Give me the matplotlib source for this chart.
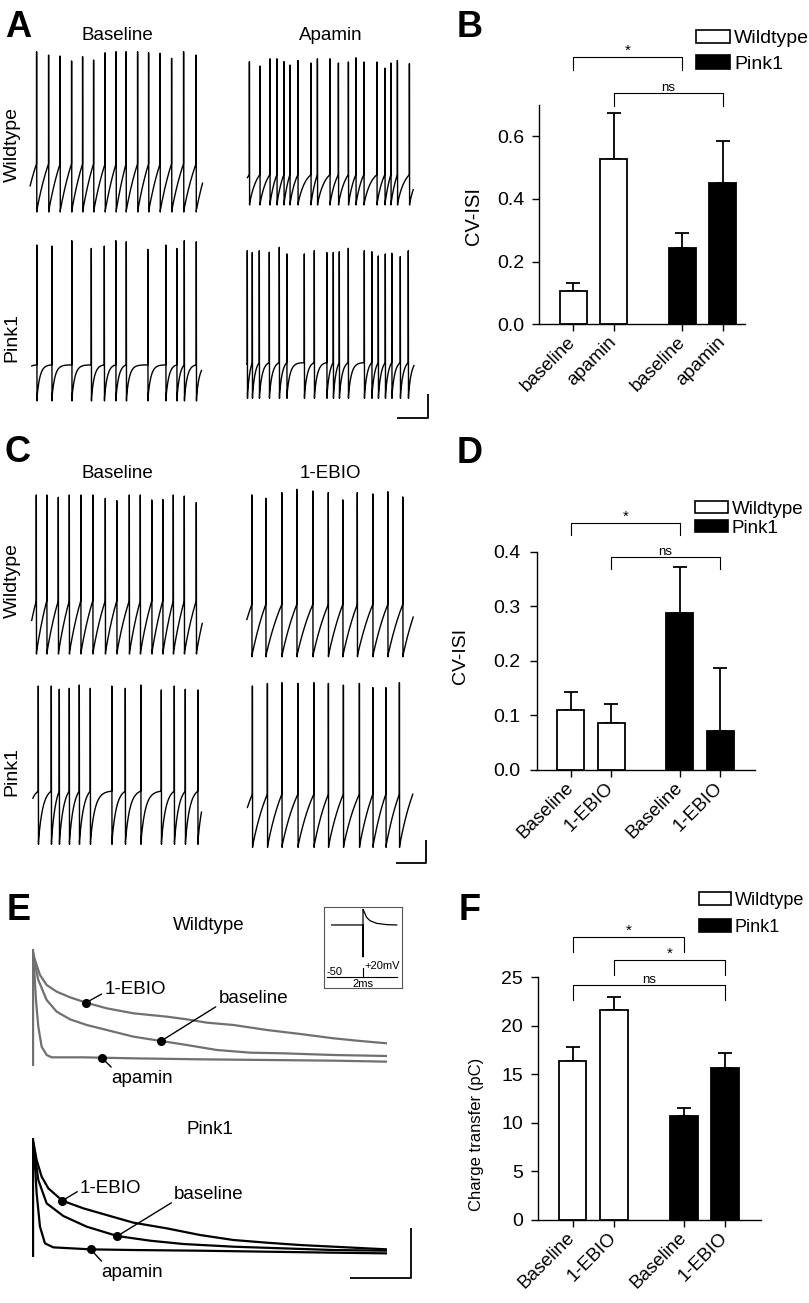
"""Pacemaker firing, CV-ISI and SK charge-transfer figure (panels A-F)."""

import numpy as np
import matplotlib

matplotlib.use("Agg")
import matplotlib.pyplot as plt
from matplotlib.patches import Patch
from matplotlib.lines import Line2D

plt.rcParams["font.family"] = ["Liberation Sans", "DejaVu Sans"]

W, H = 809, 1303

# ----------------------------------------------------------------
# Spike trains read off panels A and C: spike times (s), peaks (mV)
# ----------------------------------------------------------------
a_wt_base_spikes = [0.13, 0.37, 0.60, 0.83, 1.05, 1.27, 1.50, 1.72, 1.92,
                    2.15, 2.37, 2.60, 2.83, 3.07, 3.32]
a_wt_base_peaks = [20.0, 18.1, 17.6, 14.8, 17.2, 15.3, 19.4, 20.0, 20.0,
                   20.0, 19.4, 19.1, 16.3, 20.0, 18.1]
a_wt_apa_spikes = [0.04, 0.25, 0.45, 0.59, 0.73, 0.85, 1.01, 1.27, 1.40,
                   1.65, 1.82, 2.02, 2.17, 2.33, 2.59, 2.75, 2.87, 3.00, 3.24]
a_wt_apa_peaks = [17.4, 14.8, 19.1, 19.1, 17.4, 15.4, 18.1, 16.6, 19.1,
                  19.1, 16.6, 17.2, 19.7, 17.2, 17.2, 13.5, 16.6, 18.1, 16.2]
a_pk_base_spikes = [0.10, 0.40, 0.80, 1.19, 1.45, 1.68, 1.89, 2.32, 2.68,
                    2.90, 3.05, 3.29]
a_pk_base_peaks = [17.6, 17.0, 20.0, 15.7, 17.0, 20.0, 19.4, 15.2, 17.6,
                   15.7, 20.0, 19.4]
a_pk_apa_spikes = [0.01, 0.11, 0.25, 0.45, 0.65, 0.80, 1.15, 1.35, 1.60,
                   1.73, 1.85, 2.03, 2.35, 2.50, 2.63, 2.77, 2.90, 3.07, 3.23]
a_pk_apa_peaks = [18.0, 16.9, 18.0, 17.1, 20.0, 16.1, 16.1, 18.0, 16.9,
                  16.9, 17.4, 19.4, 18.0, 17.4, 14.9, 16.1, 16.5, 14.5, 18.0]
c_wt_base_spikes = [0.09, 0.30, 0.53, 0.75, 0.98, 1.22, 1.47, 1.70, 1.95,
                    2.17, 2.40, 2.62, 2.83, 3.05, 3.29]
c_wt_base_peaks = [20.0, 20.0, 18.7, 20.0, 20.0, 20.0, 18.1, 16.8, 20.0,
                   20.0, 17.2, 17.5, 20.0, 19.4, 15.7]
c_wt_ebio_spikes = [0.10, 0.38, 0.70, 1.00, 1.32, 1.63, 1.92, 2.21, 2.52,
                    2.82, 3.12]
c_wt_ebio_peaks = [17.0, 15.2, 18.2, 20.0, 19.1, 18.2, 14.3, 18.2, 17.5,
                   18.7, 15.9]
c_pk_base_spikes = [0.11, 0.37, 0.53, 0.73, 0.93, 1.15, 1.58, 1.85, 2.16,
                    2.57, 2.83, 3.05, 3.30]
c_pk_base_peaks = [19.4, 19.4, 17.6, 18.1, 20.0, 18.1, 19.4, 18.1, 20.0,
                   17.2, 19.4, 17.6, 17.2]
c_pk_ebio_spikes = [0.10, 0.40, 0.69, 1.01, 1.33, 1.62, 1.92, 2.24, 2.51,
                    2.77, 3.04]
c_pk_ebio_peaks = [18.2, 19.6, 20.0, 19.6, 20.0, 19.6, 18.7, 19.6, 17.3,
                   17.3, 20.0]

# ----------------------------------------------------------------
# Bar data (mean, SEM)
# ----------------------------------------------------------------
groups = ["Wildtype", "Pink1"]
b_labels = ["baseline", "apamin", "baseline", "apamin"]
b_means = [0.107, 0.528, 0.242, 0.451]
b_sem = [0.024, 0.147, 0.049, 0.135]
d_labels = ["Baseline", "1-EBIO", "Baseline", "1-EBIO"]
d_means = [0.110, 0.087, 0.288, 0.072]
d_sem = [0.033, 0.034, 0.084, 0.115]
f_labels = ["Baseline", "1-EBIO", "Baseline", "1-EBIO"]
f_means = [16.4, 21.6, 10.7, 15.7]
f_sem = [1.46, 1.34, 0.83, 1.51]

# significance brackets: (bar i, bar j, height, text)
b_brackets = [(0, 2, 0.853, "*"), (1, 3, 0.739, "ns")]
d_brackets = [(0, 2, 0.453, "*"), (1, 3, 0.391, "ns")]
f_brackets = [(0, 2, 29.2, "*"), (1, 3, 26.8, "*"), (0, 3, 24.2, "ns")]

# ----------------------------------------------------------------
# Panel E: SK tail currents (time ms, current pA)
# ----------------------------------------------------------------
e_wt_t_ebio = [0, 8, 23, 43, 73, 113, 161, 223, 303, 403, 463, 523, 603,
               703, 803, 903, 983, 1063]
e_wt_i_ebio = [35.0, 31.8, 27.3, 24.3, 22.3, 20.6, 19.0, 17.3, 15.8, 14.8,
               14.0, 13.0, 12.3, 10.8, 9.6, 8.3, 7.5, 6.8]
e_wt_t_base = [0, 3, 18, 43, 73, 113, 163, 223, 303, 386, 463, 553, 653,
               753, 903, 1063]
e_wt_i_base = [35.0, 32.8, 25.8, 19.8, 16.3, 14.0, 12.3, 10.8, 8.8, 7.5,
               6.3, 4.8, 4.0, 3.8, 3.3, 3.0]
e_wt_t_apa = [0, 3, 11, 18, 28, 43, 58, 153, 303, 503, 703, 903, 1063]
e_wt_i_apa = [35.0, 33.8, 19.8, 11.8, 5.8, 3.3, 2.6, 2.6, 2.3, 2.0, 1.8,
              1.6, 1.3]
e_wt_artifact = [0.0, 35.0]

e_pk_t_ebio = [0, 3, 13, 28, 48, 90, 153, 233, 303, 403, 503, 603, 703,
               803, 903, 1063]
e_pk_i_ebio = [35.5, 34.5, 29.0, 24.0, 20.5, 16.8, 14.5, 12.2, 10.2, 8.5,
               6.5, 5.0, 4.2, 3.5, 3.0, 2.2]
e_pk_t_base = [0, 6, 18, 43, 93, 163, 255, 353, 453, 603, 753, 903, 1063]
e_pk_i_base = [35.5, 32.0, 23.0, 16.0, 12.2, 9.0, 6.2, 4.8, 3.8, 3.0, 2.5,
               2.0, 1.8]
e_pk_t_apa = [0, 6, 13, 23, 38, 63, 175, 303, 503, 703, 903, 1063]
e_pk_i_apa = [35.5, 31.0, 19.0, 9.0, 4.0, 2.8, 2.2, 2.0, 1.8, 1.5, 1.2, 1.0]
e_pk_artifact = [0.0, 35.5]

# labelled points on the traces: (name, t, I)
e_wt_marks = [("1-EBIO", 161, 19.0), ("baseline", 386, 7.5),
              ("apamin", 208, 2.5)]
e_pk_marks = [("1-EBIO", 90, 16.8), ("baseline", 255, 6.2),
              ("apamin", 175, 2.2)]

# inset: voltage-clamp protocol and current
inset_t = [-2.43, 0.0, 0.0, 0.0, 0.03, 0.28, 0.54, 1.06, 1.84, 2.61]
inset_i = [0.776, 0.776, 0.388, 0.967, 0.959, 0.869, 0.829, 0.796, 0.780,
           0.776]
inset_step_t = [-2.82, 2.61]
inset_step_v = [0.135, 0.135]

positions = [0.0, 1.0, 2.7, 3.7]
bar_colors = ["white", "white", "black", "black"]


def px_axes(fig, x0, y0, x1, y1):
    """Axes from pixel box (left, top, right, bottom)."""
    return fig.add_axes([x0 / W, 1 - y1 / H, (x1 - x0) / W, (y1 - y0) / H])


def fig_line(fig, xs, ys, lw=1.3):
    fig.add_artist(Line2D([x / W for x in xs], [1 - y / H for y in ys],
                          color="black", lw=lw, solid_capstyle="butt"))


def spike_wave(spikes, peaks, dur, v_th, v_ahp, tau):
    s = np.asarray(spikes, float)
    edges = np.concatenate([[s[0] - (s[1] - s[0])], s,
                            [s[-1] + (s[-1] - s[-2])]])
    ts, vs = [], []
    for k in range(len(edges) - 1):
        a, b = edges[k], edges[k + 1]
        a0 = a + (0.006 if k > 0 else 0.0)
        isi = b - a
        tt = np.linspace(a0, b, 50)
        ramp = v_ahp + (v_th - v_ahp) * (1 - np.exp(-(tt - a) / tau)) / (
            1 - np.exp(-isi / tau))
        ts.append(tt)
        vs.append(ramp)
        if k < len(s):
            ts.append(np.array([b + 0.002, b + 0.006]))
            vs.append(np.array([peaks[k], v_ahp]))
    t = np.concatenate(ts)
    v = np.concatenate(vs)
    keep = (t >= 0) & (t <= dur)
    return t[keep], v[keep]


fig = plt.figure(figsize=(W / 100, H / 100), dpi=100)
fig.patch.set_facecolor("white")

# ----------------------------------------------------------------
# Panels A and C: spike traces
# ----------------------------------------------------------------
traces = [
    (a_wt_base_spikes, a_wt_base_peaks, (30.0, 51.7, 202.7, 212.0), -43, -70, 0.40),
    (a_wt_apa_spikes, a_wt_apa_peaks, (247.3, 57.3, 413.3, 208.3), -50, -68, 0.15),
    (a_pk_base_spikes, a_pk_base_peaks, (31.7, 240.7, 201.7, 402.7), -49, -69, 0.06),
    (a_pk_apa_spikes, a_pk_apa_peaks, (246.7, 247.3, 414.0, 400.0), -48, -69, 0.06),
    (c_wt_base_spikes, c_wt_base_peaks, (31.7, 495.0, 202.3, 654.0), -40, -70, 0.40),
    (c_wt_ebio_spikes, c_wt_ebio_peaks, (246.7, 489.3, 413.3, 656.7), -42, -70, 0.50),
    (c_pk_base_spikes, c_pk_base_peaks, (32.7, 685.0, 201.7, 844.3), -40, -70, 0.09),
    (c_pk_ebio_spikes, c_pk_ebio_peaks, (247.3, 682.7, 413.3, 847.3), -41, -70, 0.40),
]
for spikes, peaks, box, v_th, v_ahp, tau in traces:
    ax = px_axes(fig, *box)
    dur = (box[2] - box[0]) * 0.02
    t, v = spike_wave(spikes, peaks, dur, v_th, v_ahp, tau)
    ax.plot(t, v, color="black", lw=1.0, clip_on=False)
    ax.set_xlim(0, dur)
    ax.set_ylim(-70, 20)
    ax.axis("off")

title_kw = dict(fontsize=13.5, ha="center", va="center")
fig.text(117 / W, 1 - 35 / H, "Baseline", **title_kw)
fig.text(331 / W, 1 - 35 / H, "Apamin", **title_kw)
fig.text(117 / W, 1 - 473 / H, "Baseline", **title_kw)
fig.text(330 / W, 1 - 473 / H, "1-EBIO", **title_kw)
row_kw = dict(fontsize=14, ha="center", va="center", rotation=90)
fig.text(12 / W, 1 - 145 / H, "Wildtype", **row_kw)
fig.text(12 / W, 1 - 338 / H, "Pink1", **row_kw)
fig.text(12 / W, 1 - 581 / H, "Wildtype", **row_kw)
fig.text(12 / W, 1 - 772 / H, "Pink1", **row_kw)

# scale bars
fig_line(fig, [396.7, 427.7, 427.7], [417.7, 417.7, 394.0])
fig_line(fig, [396.0, 425.7, 425.7], [862.7, 862.7, 840.0])
fig_line(fig, [350.0, 410.7, 410.7], [1278.3, 1278.3, 1228.3])


# ----------------------------------------------------------------
# Panels B, D, F: bar charts
# ----------------------------------------------------------------
def bar_panel(box, xlim, ylim, yticks, ytick_labels, means, sems, labels,
              brackets, drop, ypad):
    ax = px_axes(fig, *box)
    ax.bar(positions, means, width=0.67, color=bar_colors,
           edgecolor="black", linewidth=1.3, zorder=2)
    ax.errorbar(positions, means, yerr=[np.zeros(len(means)), sems],
                fmt="none", ecolor="black", elinewidth=1.3, capsize=5,
                capthick=1.3, zorder=1)
    ax.set_xlim(*xlim)
    ax.set_ylim(*ylim)
    ax.set_yticks(yticks)
    ax.set_yticklabels(ytick_labels, fontsize=14)
    ax.set_xticks(positions)
    ax.set_xticklabels(labels, rotation=45, ha="right", va="center",
                       rotation_mode="anchor", fontsize=13.5)
    ax.tick_params(direction="out", length=5, width=1)
    ax.tick_params(axis="y", pad=ypad)
    ax.tick_params(axis="x", pad=6)
    for spine in ("top", "right"):
        ax.spines[spine].set_visible(False)
    for spine in ("left", "bottom"):
        ax.spines[spine].set_linewidth(1.0)
    for i, j, y, text in brackets:
        xi, xj = positions[i], positions[j]
        ax.plot([xi, xi, xj, xj], [y - drop, y, y, y - drop], color="black",
                lw=0.8, clip_on=False)
        ax.annotate(text, xy=((xi + xj) / 2, y), xytext=(0, 1.5),
                    textcoords="offset points", ha="center", va="baseline",
                    fontsize=9.5 if text == "ns" else 11, annotation_clip=False)
    return ax


bar_panel((539.3, 105.0, 745.0, 324.3), (-0.84, 4.25), (0, 0.7),
          [0.0, 0.2, 0.4, 0.6], ["0.0", "0.2", "0.4", "0.6"],
          b_means, b_sem, b_labels, b_brackets, 0.042, 6)
bar_panel((537.3, 551.7, 755.0, 770.0), (-0.83, 4.565), (0, 0.4),
          [0.0, 0.1, 0.2, 0.3, 0.4], ["0.0", "0.1", "0.2", "0.3", "0.4"],
          d_means, d_sem, d_labels, d_brackets, 0.0225, 7)
bar_panel((538.3, 977.3, 760.7, 1220.0), (-0.83, 4.56), (0, 25),
          [0, 5, 10, 15, 20, 25], ["0", "5", "10", "15", "20", "25"],
          f_means, f_sem, f_labels, f_brackets, 1.55, 6)

ylab_kw = dict(ha="center", va="center", rotation=90)
fig.text(473.3 / W, 1 - 216 / H, "CV-ISI", fontsize=14.5, **ylab_kw)
fig.text(460.5 / W, 1 - 656 / H, "CV-ISI", fontsize=14, **ylab_kw)
fig.text(476 / W, 1 - 1134 / H, "Charge transfer (pC)", fontsize=12,
         **ylab_kw)

legend_handles = [
    Patch(facecolor="white", edgecolor="black", linewidth=1.2, label=groups[0]),
    Patch(facecolor="black", edgecolor="black", linewidth=1.2, label=groups[1]),
]
for (lx, ly), fs, spacing, hh in [((696, 30), 14, 0.40, 0.68),
                                  ((695, 501), 13.5, 0.09, 0.62),
                                  ((699, 892), 13, 0.55, 0.72)]:
    fig.legend(handles=legend_handles, loc="upper left",
               bbox_to_anchor=(lx / W, 1 - ly / H), frameon=False,
               fontsize=fs, handlelength=1.77, handleheight=hh,
               handletextpad=0.2, labelspacing=spacing, borderpad=0,
               borderaxespad=0)

# ----------------------------------------------------------------
# Panel E: tail currents
# ----------------------------------------------------------------
GRAY = "#707070"


def tail_panel(box, ylim_top, color, curves, artifact, marks, label_pos):
    ax = px_axes(fig, *box)
    ax.plot([0, 0], artifact, color=color, lw=2.4, solid_capstyle="butt")
    for t, i in curves:
        ax.plot(t, i, color=color, lw=1.6)
    for (name, mt, mi), (tx, ty, rel) in zip(marks, label_pos):
        ax.plot([mt], [mi], "o", color="black", ms=5.5, zorder=4,
                clip_on=False)
        ax.annotate(name, xy=(mt, mi), xytext=(tx, ty), fontsize=13.5,
                    ha="left", va="center", annotation_clip=False,
                    arrowprops=dict(arrowstyle="-", color="black", lw=1.0,
                                    shrinkA=0, shrinkB=0, relpos=rel))
    ax.set_xlim(0, 1063)
    ax.set_ylim(0, ylim_top)
    ax.axis("off")
    return ax


tail_panel((32.3, 949.3, 387.0, 1066.0), 35.0, GRAY,
           [(e_wt_t_ebio, e_wt_i_ebio), (e_wt_t_base, e_wt_i_base),
            (e_wt_t_apa, e_wt_i_apa)], e_wt_artifact, e_wt_marks,
           [(216, 22.8, (0.0, 0.35)), (558, 20.3, (0.0, 0.1)),
            (238, -3.7, (0.05, 0.95))])
tail_panel((32.3, 1138.3, 387.0, 1256.7), 35.5, "black",
           [(e_pk_t_ebio, e_pk_i_ebio), (e_pk_t_base, e_pk_i_base),
            (e_pk_t_apa, e_pk_i_apa)], e_pk_artifact, e_pk_marks,
           [(143, 20.5, (0.0, 0.4)), (425, 18.7, (0.0, 0.1)),
            (208, -4.7, (0.05, 0.95))])

fig.text(209 / W, 1 - 925 / H, "Wildtype", **title_kw)
fig.text(210 / W, 1 - 1129 / H, "Pink1", **title_kw)

# inset with the voltage step protocol
axi = px_axes(fig, 324.3, 906.7, 401.7, 988.3)
axi.plot(inset_t, inset_i, color="black", lw=0.9)
axi.plot(inset_step_t, inset_step_v, color="black", lw=0.8)
axi.plot([0, 0], [0.135, 0.245], color="black", lw=0.8)
axi.text(-2.82, 0.204, "-50", fontsize=8, ha="left", va="center")
axi.text(0.08, 0.273, "+20mV", fontsize=8, ha="left", va="center")
axi.text(0.0, 0.049, "2ms", fontsize=8, ha="center", va="center")
axi.set_xlim(-3, 3)
axi.set_ylim(0, 1)
axi.set_xticks([])
axi.set_yticks([])
for sp in axi.spines.values():
    sp.set_linewidth(0.8)
    sp.set_color("#555555")

# ----------------------------------------------------------------
# Panel letters
# ----------------------------------------------------------------
letter_kw = dict(fontsize=26, fontweight="bold", ha="left", va="baseline")
fig.text(5 / W, 1 - 36.7 / H, "A", **letter_kw)
fig.text(456.7 / W, 1 - 36.7 / H, "B", **letter_kw)
fig.text(5 / W, 1 - 462 / H, "C", **letter_kw)
fig.text(456.7 / W, 1 - 463 / H, "D", **letter_kw)
fig.text(7 / W, 1 - 919.5 / H, "E", **letter_kw)
fig.text(458.3 / W, 1 - 919.5 / H, "F", **letter_kw)

fig.savefig("out.png", dpi=100, facecolor="white")
plt.close(fig)
